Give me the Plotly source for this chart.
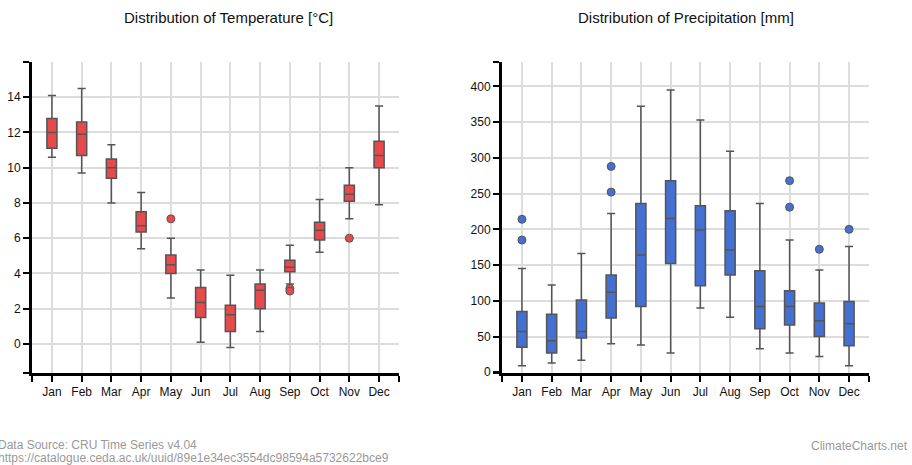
import plotly.graph_objects as go

months = ["Jan", "Feb", "Mar", "Apr", "May", "Jun", "Jul", "Aug", "Sep", "Oct", "Nov", "Dec"]

# Temperature [°C]
t_low = [10.6, 9.7, 8.0, 5.4, 2.6, 0.1, -0.2, 0.7, 3.4, 5.2, 7.1, 7.9]
t_q1 = [11.1, 10.7, 9.4, 6.35, 4.0, 1.5, 0.7, 2.0, 4.1, 5.9, 8.1, 10.0]
t_med = [12.0, 11.9, 10.0, 6.7, 4.5, 2.35, 1.65, 3.05, 4.35, 6.45, 8.5, 10.7]
t_q3 = [12.8, 12.6, 10.5, 7.5, 5.05, 3.2, 2.2, 3.4, 4.75, 6.9, 9.0, 11.5]
t_high = [14.1, 14.5, 11.3, 8.6, 6.0, 4.2, 3.9, 4.2, 5.6, 8.2, 10.0, 13.5]
t_out_month = [4, 8, 8, 10]
t_out_value = [7.1, 3.15, 3.0, 6.0]

# Precipitation [mm]
p_low = [9, 13, 17, 40, 38, 27, 90, 77, 33, 27, 22, 9]
p_q1 = [35, 27, 48, 76, 92, 152, 121, 136, 61, 66, 50, 37]
p_med = [57, 44, 57, 112, 164, 215, 199, 171, 92, 92, 72, 68]
p_q3 = [85, 81, 101, 136, 236, 268, 233, 226, 142, 114, 97, 99]
p_high = [145, 122, 166, 222, 372, 395, 353, 309, 236, 185, 143, 176]
p_out_month = [0, 0, 3, 3, 9, 9, 10, 11]
p_out_value = [214, 185, 288, 252, 268, 231, 172, 200]

t_range = [-1.65, 16]
t_ticks = [0, 2, 4, 6, 8, 10, 12, 14]
p_range = [-1, 434]
p_ticks = [0, 50, 100, 150, 200, 250, 300, 350, 400]

RED = "#e84a4c"
BLUE = "#4470d2"
EDGE = "#555555"
GRID = "#dcdcdc"

xpos = list(range(len(months)))

fig = go.Figure()

fig.add_trace(go.Box(
    x=xpos, q1=t_q1, median=t_med, q3=t_q3, lowerfence=t_low, upperfence=t_high,
    fillcolor=RED, line=dict(color=EDGE, width=1.5), width=0.34, whiskerwidth=0.8,
    boxpoints=False, xaxis="x", yaxis="y", showlegend=False, hoverinfo="skip"))
fig.add_trace(go.Scatter(
    x=t_out_month, y=t_out_value, mode="markers",
    marker=dict(color=RED, size=8, line=dict(color=EDGE, width=1)),
    xaxis="x", yaxis="y", showlegend=False))

fig.add_trace(go.Box(
    x=xpos, q1=p_q1, median=p_med, q3=p_q3, lowerfence=p_low, upperfence=p_high,
    fillcolor=BLUE, line=dict(color=EDGE, width=1.5), width=0.34, whiskerwidth=0.8,
    boxpoints=False, xaxis="x2", yaxis="y2", showlegend=False, hoverinfo="skip"))
fig.add_trace(go.Scatter(
    x=p_out_month, y=p_out_value, mode="markers",
    marker=dict(color=BLUE, size=8, line=dict(color=EDGE, width=1)),
    xaxis="x2", yaxis="y2", showlegend=False))

xr = [-0.67, 11.67]
xtv = [xr[0]] + xpos + [xr[1]]
xtt = [""] + months + [""]

tick_font = dict(family="Liberation Sans, Arial, sans-serif", size=12, color="#111")

def xaxis(domain, anchor):
    return dict(domain=domain, anchor=anchor, range=xr, tickmode="array",
                tickvals=xtv, ticktext=xtt, showgrid=True, gridcolor=GRID, gridwidth=1.5,
                zeroline=False, showline=True, linecolor="#000", linewidth=3,
                ticks="outside", ticklen=6, tickwidth=2, tickcolor="#000",
                tickfont=tick_font, fixedrange=True, automargin=False)

def yaxis(domain, anchor, rng, ticks):
    tv = [rng[0]] + ticks + [rng[1]]
    tt = [""] + [str(v) for v in ticks] + [""]
    return dict(domain=domain, anchor=anchor, range=rng, tickmode="array",
                tickvals=tv, ticktext=tt, showgrid=True, gridcolor=GRID, gridwidth=1.5,
                zeroline=False, showline=True, linecolor="#000", linewidth=3,
                ticks="outside", ticklen=6, tickwidth=2, tickcolor="#000",
                tickfont=tick_font, fixedrange=True, automargin=False)

ydom = [1 - 373 / 465, 1 - 62 / 465]

fig.update_layout(
    template="none",
    width=912, height=465,
    margin=dict(l=0, r=0, t=0, b=0, pad=0, autoexpand=False),
    paper_bgcolor="white", plot_bgcolor="white",
    font=dict(family="Liberation Sans, Arial, sans-serif"),
    xaxis=xaxis([32 / 912, 399 / 912], "y"),
    yaxis=yaxis(ydom, "x", t_range, t_ticks),
    xaxis2=xaxis([502 / 912, 869 / 912], "y2"),
    yaxis2=yaxis(ydom, "x2", p_range, p_ticks),
    annotations=[
        dict(text="Distribution of Temperature [°C]", x=229 / 912, y=1 - 18 / 465,
             xref="paper", yref="paper", xanchor="center", yanchor="middle",
             showarrow=False, font=dict(size=15, color="#111")),
        dict(text="Distribution of Precipitation [mm]", x=685.5 / 912, y=1 - 18 / 465,
             xref="paper", yref="paper", xanchor="center", yanchor="middle",
             showarrow=False, font=dict(size=15, color="#111")),
        dict(text="Data Source: CRU Time Series v4.04", x=-4 / 912, y=1 - 445 / 465,
             xref="paper", yref="paper", xanchor="left", yanchor="middle",
             showarrow=False, font=dict(size=12, color="#999")),
        dict(text="https://catalogue.ceda.ac.uk/uuid/89e1e34ec3554dc98594a5732622bce9",
             x=-4 / 912, y=1 - 458 / 465,
             xref="paper", yref="paper", xanchor="left", yanchor="middle",
             showarrow=False, font=dict(size=12, color="#999")),
        dict(text="ClimateCharts.net", x=910 / 912, y=1 - 446 / 465,
             xref="paper", yref="paper", xanchor="right", yanchor="middle",
             showarrow=False, font=dict(size=12, color="#999")),
    ],
)

fig.write_html("out.html")
